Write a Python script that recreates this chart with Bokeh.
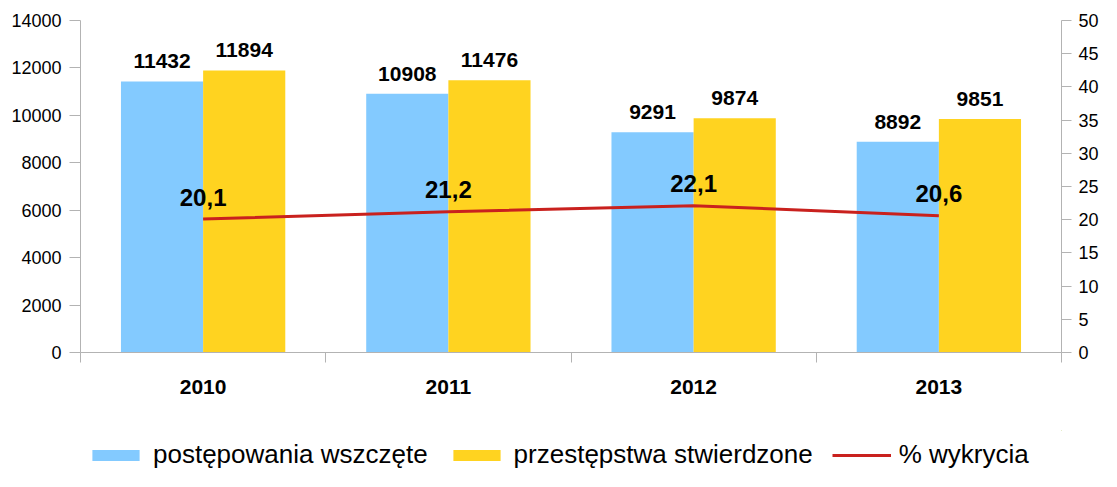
from bokeh.plotting import figure
from bokeh.layouts import column
from bokeh.models import (Range1d, LinearAxis, FixedTicker, Legend,
                          LegendItem, ColumnDataSource)
from bokeh.transform import dodge
from bokeh.core.properties import value
from bokeh.embed import file_html
from bokeh.resources import INLINE

# ---- data ----
years = ["2010", "2011", "2012", "2013"]
wszczete = [11432, 10908, 9291, 8892]
stwierdzone = [11894, 11476, 9874, 9851]
wykrycia = [20.1, 21.2, 22.1, 20.6]
wykrycia_labels = ["20,1", "21,2", "22,1", "20,6"]
series_names = ["postępowania wszczęte", "przestępstwa stwierdzone", "% wykrycia"]
left_ticks = [0, 2000, 4000, 6000, 8000, 10000, 12000, 14000]
right_ticks = [0, 5, 10, 15, 20, 25, 30, 35, 40, 45, 50]

FONT = "Liberation Sans"
BLUE = "#83CAFF"
YELLOW = "#FFD320"
RED = "#C9211E"
AXIS = "#B3B3B3"

# category slots: one unit per year, centred at i + 0.5
centers = [i + 0.5 for i in range(len(years))]
bounds = list(range(len(years) + 1))

src = ColumnDataSource(dict(
    xc=centers, a=wszczete, b=stwierdzone, p=wykrycia,
    a_txt=[str(v) for v in wszczete], b_txt=[str(v) for v in stwierdzone],
    p_txt=wykrycia_labels,
))

p = figure(width=1101, height=430,
           x_range=Range1d(0, len(years)),
           y_range=Range1d(0, left_ticks[-1]),
           output_backend="svg", toolbar_location=None,
           x_axis_location=None, y_axis_location=None,
           min_border_left=80, min_border_right=36, min_border_top=20,
           min_border_bottom=78)
p.outline_line_color = None
p.xgrid.visible = False
p.ygrid.visible = False
p.extra_y_ranges = {"pct": Range1d(0, right_ticks[-1])}

BW = 0.335
p.vbar(x=dodge("xc", -BW / 2), top="a", width=BW,
       source=src, fill_color=BLUE, line_color=None)
p.vbar(x=dodge("xc", BW / 2), top="b", width=BW,
       source=src, fill_color=YELLOW, line_color=None)
p.line(x="xc", y="p", source=src, y_range_name="pct",
       line_color=RED, line_width=3)

p.text(x=dodge("xc", -BW / 2), y="a", text="a_txt", source=src,
       text_align="center", text_baseline="middle", y_offset=-20,
       text_font=value(FONT), text_font_style="bold", text_font_size="21px",
       text_color="black")
p.text(x=dodge("xc", BW / 2), y="b", text="b_txt", source=src,
       text_align="center", text_baseline="middle", y_offset=-20,
       text_font=value(FONT), text_font_style="bold", text_font_size="21px",
       text_color="black")
p.text(x="xc", y="p", text="p_txt", source=src, y_range_name="pct",
       text_align="center", text_baseline="middle", y_offset=-22,
       text_font=value(FONT), text_font_style="bold", text_font_size="24px",
       text_color="black")

def style_axis(ax, tick_out):
    ax.axis_line_color = AXIS
    ax.major_tick_line_color = AXIS
    ax.minor_tick_line_color = AXIS
    ax.major_tick_out = tick_out
    ax.major_tick_in = 0
    ax.minor_tick_out = 0
    ax.minor_tick_in = 0
    ax.major_label_text_font = FONT
    ax.major_label_text_font_size = "18px"
    ax.major_label_text_color = "black"

yl = LinearAxis(ticker=FixedTicker(ticks=left_ticks))
style_axis(yl, 11)
yl.major_label_standoff = 8
p.add_layout(yl, "left")

yr = LinearAxis(y_range_name="pct", ticker=FixedTicker(ticks=right_ticks))
style_axis(yr, 10)
yr.major_label_standoff = 7
p.add_layout(yr, "right")

xa = LinearAxis(ticker=FixedTicker(ticks=centers, minor_ticks=bounds),
                major_label_overrides={c: y for c, y in zip(centers, years)})
style_axis(xa, 0)
xa.minor_tick_out = 10
xa.major_label_text_font_size = "21px"
xa.major_label_text_font_style = "bold"
xa.major_label_standoff = 17
p.add_layout(xa, "below")

# ---- legend strip (separate figure under the chart) ----
# its ranges lie far away from the data, so the key renderers draw nothing visible
lg = figure(width=1101, height=41, x_range=Range1d(-100, -99),
            y_range=Range1d(-2, -1),
            output_backend="svg", toolbar_location=None,
            x_axis_location=None, y_axis_location=None,
            min_border_left=0, min_border_right=0, min_border_top=0,
            min_border_bottom=0)
lg.outline_line_color = None
lg.xgrid.visible = False
lg.ygrid.visible = False
k_a = lg.vbar(x="xc", top="a", width=BW, source=src, fill_color=BLUE, line_color=None)
k_b = lg.vbar(x="xc", top="b", width=BW, source=src, fill_color=YELLOW, line_color=None)
k_l = lg.line(x="xc", y="p", source=src, line_color=RED, line_width=3)

legend = Legend(items=[LegendItem(label=series_names[0], renderers=[k_a]),
                       LegendItem(label=series_names[1], renderers=[k_b]),
                       LegendItem(label=series_names[2], renderers=[k_l])],
                orientation="horizontal", location=(6, 1),
                label_text_font=FONT, label_text_font_size="26px",
                label_text_color="black",
                glyph_width=59, glyph_height=14, label_standoff=8, spacing=19,
                border_line_color=None, background_fill_alpha=0,
                padding=0, margin=0)
lg.add_layout(legend, "center")

layout = column(p, lg, spacing=0)
open("out.html", "w").write(file_html(layout, INLINE))
